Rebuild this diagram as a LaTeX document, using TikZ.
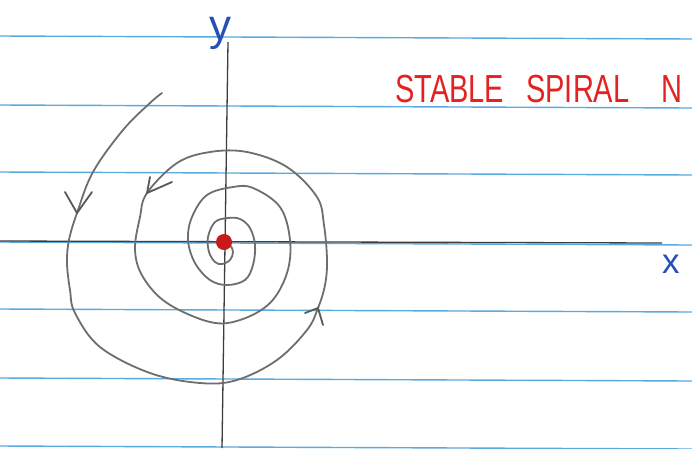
\documentclass[tikz,border=0pt]{standalone}
\usepackage{fontspec}
\setmainfont{Liberation Sans}
\usepackage{graphicx}
\usetikzlibrary{arrows.meta, positioning}
\definecolor{rulecol}{HTML}{5AAAE0}
\definecolor{axiscol}{HTML}{3C3C3C}
\definecolor{orbitcol}{HTML}{6E6E6E}
\definecolor{inkblue}{HTML}{2850B4}
\definecolor{inkred}{HTML}{E42222}
\definecolor{dotcol}{HTML}{C81A1A}
\tikzset{
  rule/.style={rulecol, line width=1.4},
  axis/.style={axiscol, line width=1.3},
  orbit/.style={orbitcol, line width=1.8, line join=round, line cap=round},
  barb/.style={orbitcol!80!black, line width=1.8, line cap=round, line join=round},
  ink/.style={inkblue, inner sep=0pt},
  title/.style={inkred, inner sep=0pt, font=\fontsize{29}{29}\selectfont},
  fixpt/.style={circle, fill=dotcol, minimum size=16, inner sep=0pt},
}

\begin{document}
\begin{tikzpicture}[x=1pt, y=-1pt, >=Stealth]
  \useasboundingbox (0,0) rectangle (692,448);
  \clip (0,0) rectangle (692,448);
  \fill[white] (0,0) rectangle (692,448);
  % ruled paper
  \foreach \r in {36,105,172,242,309,378,446}
    \draw[rule] (0,\r) -- (692,\r+3);
  % axes
  \coordinate (xl) at (0,241);
  \coordinate (xr) at (662,243);
  \coordinate (yt) at (228,42);
  \coordinate (yb) at (222,448);
  \draw[axis] (xl) -- (xr);
  \draw[axis] (yt) -- (yb);
  \node[ink, font=\fontsize{44}{44}\selectfont, anchor=base] (ylab) at (220,40) {y};
  \node[ink, font=\fontsize{35}{35}\selectfont, anchor=base west] (xlab) at (662,273) {x};
  % trajectory, spiralling in
  \draw[orbit] plot[smooth, tension=0.6] coordinates {
    (162,93) (150,103) (123,130) (93,172) (77,213) (69,240) (67,263) (70,290)
    (75,313) (100,347) (150,373) (200,383) (237,380) (277,360) (307,330)
    (318,308) (325,285) (327,260) (324,225) (317,197) (287,167) (247,152)
    (210,152) (177,163) (147,193) (140,217) (135,250) (143,277) (167,303)
    (210,322) (240,320) (270,303) (287,273) (290,240) (280,207) (253,188)
    (233,187) (207,195) (192,217) (188,240) (195,263) (210,280) (227,285)
    (245,280) (253,265) (255,245) (250,228) (240,219) (228,218) (215,222)
    (208,237) (209,252) (215,262) (222,264) (230,260) (233,252) (230,245)
    (224,242)};
  % direction marks
  \foreach \tx/\ty/\ax/\ay/\bx/\by in {77/213/-12/-21/15/-21, 147/193/3/-16/25/-11, 318/308/-13/5/5/17}
    \draw[barb] (\tx,\ty) ++(\ax,\ay) -- (\tx,\ty) -- ++(\bx,\by);
  % fixed point
  \node[fixpt] (origin) at (224,242) {};
  \node[title, anchor=base west] (kind) at (395,102)
    {\scalebox{1}[1.35]{STABLE\hspace{22pt}SPIRAL\hspace{32pt}N}};
\end{tikzpicture}
\end{document}
